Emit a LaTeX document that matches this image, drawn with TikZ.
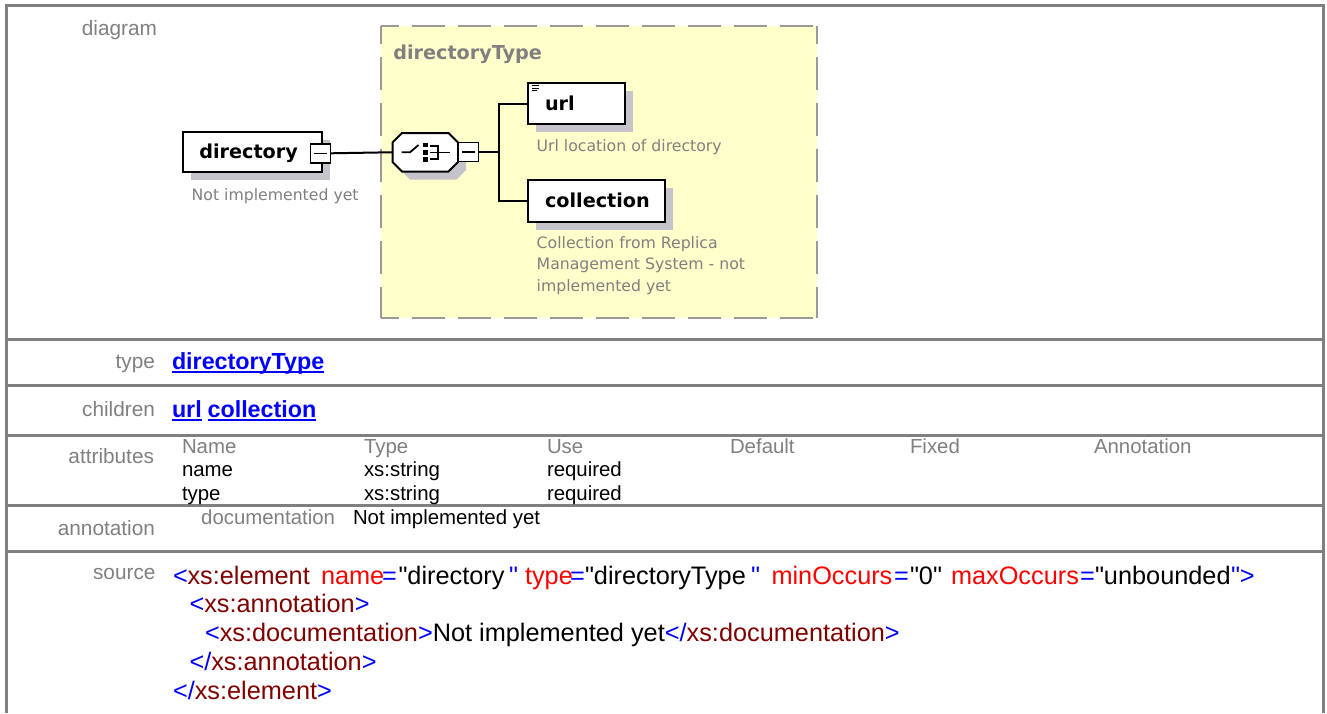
\documentclass[tikz,border=0pt]{standalone}
\usepackage{fontspec}
\setmainfont{Liberation Sans}[Ligatures=TeXOff]
\newfontfamily\dvfont{DejaVu Sans}
\usetikzlibrary{calc,shadows}
\definecolor{lblc}{HTML}{808080}
\definecolor{framec}{HTML}{808080}
\definecolor{ybg}{HTML}{FFFFCC}
\definecolor{dashc}{HTML}{9A9A9A}
\definecolor{shadc}{HTML}{C4C4CA}
\definecolor{linkc}{HTML}{0000FF}
\definecolor{tagc}{HTML}{800000}
\definecolor{attrc}{HTML}{FF0000}
\definecolor{mkc}{HTML}{0000FF}
\begin{document}
\begin{tikzpicture}[x=1pt,y=-1pt,
  every node/.style={inner sep=0pt,outer sep=0pt},
  lab/.style={anchor=base east,text=lblc,font=\fontsize{20.8}{24}\selectfont},
  cell/.style={anchor=base west,font=\fontsize{20.4}{24}\selectfont},
  hdr/.style={cell,text=lblc},
  lnk/.style={anchor=base west,text=linkc,font=\bfseries\fontsize{23.3}{26}\selectfont},
  uline/.style={draw=linkc,line width=2pt},
  src/.style={anchor=base west,font=\fontsize{25.3}{28}\selectfont},
  rowline/.style={draw=framec,line width=3pt},
  typebox/.style={fill=ybg,minimum width=436pt,minimum height=292pt},
  dashedge/.style={draw=dashc,line width=2pt,dash pattern=on 33pt off 13pt,dash phase=15pt},
  ebox/.style={draw=black,line width=2pt,fill=white,
    general shadow={fill=shadc,shadow xshift=8pt,shadow yshift=-8pt}},
  minbox/.style={draw=black,line width=1.5pt,fill=white,minimum width=20pt,minimum height=19pt},
  ename/.style={anchor=base west,font=\dvfont\bfseries\fontsize{19.2}{22}\selectfont},
  enote/.style={anchor=base west,text=lblc,font=\dvfont\fontsize{15.7}{18}\selectfont},
  conn/.style={draw=black,line width=2pt}
]
\useasboundingbox (0,0) rectangle (1327,713);
\fill[white] (0,0) rectangle (1327,713);

% ---------- table frame ----------
\draw[rowline] (6.5,713) -- (6.5,5) -- (1323.5,5) -- (1323.5,713);
\draw[rowline] (6.5,339.5) -- (1323.5,339.5);
\draw[rowline] (6.5,385) -- (1323.5,385);
\draw[rowline] (6.5,435) -- (1323.5,435);
\draw[rowline] (6.5,505) -- (1323.5,505);
\draw[rowline] (6.5,551.5) -- (1323.5,551.5);

% ---------- row labels ----------
\node[lab] (ldiagram) at (157,35) {diagram};
\node[lab] (ltype) at (155,368) {type};
\node[lab] (lchildren) at (155,416) {children};
\node[lab] (lattr) at (154,463) {attributes};
\node[lab] (lannot) at (155,535.5) {annotation};
\node[lab] (lsource) at (155.5,579) {source};

% ---------- diagram ----------
\node[typebox] (tbox) at (599,171.5) {};
\draw[dashedge] (tbox.north west) -- (tbox.north east);
\draw[dashedge] (tbox.north west) -- (tbox.south west);
\draw[dashedge] (tbox.north east) -- (tbox.south east);
\draw[dashedge] (tbox.south west) -- (tbox.south east);
\node[ename,text=lblc] (tlabel) at (393.3,59) {directoryType};

% directory element
\node[ebox,minimum width=139pt,minimum height=40pt] (dirbox) at (252.5,151.7) {};
\node[ename] (dirtxt) at (199.3,158.5) {directory};
\node[minbox] (dirmin) at (320.3,153.3) {};
\draw[line width=1.5pt] ($(dirmin.west)+(3.5,0)$) -- ($(dirmin.east)+(-3.5,0)$);
\node[enote] (dirnote) at (191.7,200.5) {Not implemented yet};

% sequence compositor
\fill[shadc] (410,141) -- (456.5,141) -- (466,150.5) -- (466,170) -- (456.5,179.5) -- (410,179.5) -- (400.5,170) -- (400.5,150.5) -- cycle;
\filldraw[fill=white,draw=black,line width=2pt] (402,133) -- (448.5,133) -- (458,142.5) -- (458,162) -- (448.5,171.5) -- (402,171.5) -- (392.5,162) -- (392.5,142.5) -- cycle;
\node[minimum width=65.5pt,minimum height=38.5pt] (seq) at (425.25,152.25) {};
\draw[line width=1.8pt] (401.7,152.3) -- (410,152.3) -- (418.5,145);
\fill (422.5,142.5) rectangle (427.5,147);
\fill (422.5,149.5) rectangle (427.5,154.5);
\fill (422.5,157) rectangle (427.5,161.5);
\draw[line width=1.8pt] (430,146) -- (438.3,146) -- (438.3,159.3) -- (430,159.3);
\draw[line width=1.8pt] (430,152.5) -- (450,152.5);
\node[minbox] (seqmin) at (468.3,152.2) {};
\draw[line width=1.5pt] ($(seqmin.west)+(3.5,0)$) -- ($(seqmin.east)+(-3.5,0)$);

% url element
\node[ebox,minimum width=96.5pt,minimum height=41pt] (urlbox) at (576.25,103.5) {};
\draw[line width=0.9pt] (531.5,85.8) -- (538.5,85.8);
\draw[line width=0.9pt] (531.5,88.3) -- (538.5,88.3);
\draw[line width=0.9pt] (531.5,90.8) -- (536.5,90.8);
\node[ename] (urltxt) at (545,110.5) {url};
\node[enote] (urlnote) at (536.7,151.5) {Url location of directory};

% collection element
\node[ebox,minimum width=136.7pt,minimum height=41.7pt] (colbox) at (596.7,200.9) {};
\node[ename] (coltxt) at (545,207) {collection};
\node[enote] (colnote1) at (536.7,248.2) {Collection from Replica};
\node[enote] (colnote2) at (536.7,269.8) {Management System - not};
\node[enote] (colnote3) at (536.7,291.5) {implemented yet};

% connectors
\coordinate (junc) at (498.5,152.2);
\draw[conn] (dirmin.east) -- (seq.west);
\draw[conn] (seqmin.east) -- (junc);
\draw[conn] (urlbox.west) -| (junc) |- (colbox.west);

% ---------- type / children ----------
\node[lnk] (typelink) at (172,369.5) {directoryType};
\draw[uline] ($(typelink.base west)+(0,2.6)$) -- ($(typelink.base east)+(0,2.6)$);
\node[lnk] (urllink) at (172,417.5) {url};
\draw[uline] ($(urllink.base west)+(0,2.6)$) -- ($(urllink.base east)+(0,2.6)$);
\node[lnk] (collink) at (207.6,417.5) {collection};
\draw[uline] ($(collink.base west)+(0,2.6)$) -- ($(collink.base east)+(0,2.6)$);

% ---------- attributes ----------
\node[hdr] (hname) at (182,453) {Name};
\node[hdr] (htype) at (364,453) {Type};
\node[hdr] (huse) at (547,453) {Use};
\node[hdr] (hdef) at (730,453) {Default};
\node[hdr] (hfix) at (910,453) {Fixed};
\node[hdr] (hann) at (1094,453) {Annotation};
\node[cell] (a1n) at (182,476.5) {name};
\node[cell] (a1t) at (364,476.5) {xs:string};
\node[cell] (a1u) at (547,476.5) {required};
\node[cell] (a2n) at (182,500) {type};
\node[cell] (a2t) at (364,500) {xs:string};
\node[cell] (a2u) at (547,500) {required};

% ---------- annotation ----------
\node[hdr,anchor=base east] (docl) at (335,524.5) {documentation};
\node[cell] (docv) at (353,524.5) {Not implemented yet};

% ---------- source ----------
\node[src,text=mkc] (s1a) at (173,584) {<};
\node[src,text=tagc] (s1b) at (187.5,584) {xs:element};
\node[src,text=attrc] (s1c) at (321,584) {name};
\node[src,text=mkc] (s1d) at (382,584) {=};
\node[src] (s1e) at (398.5,584) {"directory};
\node[src,text=mkc] (s1f) at (509,584) {"};
\node[src,text=attrc] (s1g) at (525,584) {type};
\node[src,text=mkc] (s1h) at (570,584) {=};
\node[src] (s1i) at (585,584) {"directoryType};
\node[src,text=mkc] (s1j) at (751,584) {"};
\node[src,text=attrc] (s1k) at (771.5,584) {minOccurs};
\node[src,text=mkc] (s1l) at (894,584) {=};
\node[src] (s1m) at (910,584) {"0"};
\node[src,text=attrc] (s1n) at (951,584) {maxOccurs};
\node[src,text=mkc] (s1o) at (1080,584) {=};
\node[src] (s1p) at (1095,584) {"unbounded};
\node[src,text=mkc] (s1q) at (1231,584) {">};
\node[src] (s2) at (189.5,612.5) {\textcolor{mkc}{<}\textcolor{tagc}{xs:annotation}\textcolor{mkc}{>}};
\node[src] (s3) at (205,641) {\textcolor{mkc}{<}\textcolor{tagc}{xs:documentation}\textcolor{mkc}{>}Not implemented yet\textcolor{mkc}{</}\textcolor{tagc}{xs:documentation}\textcolor{mkc}{>}};
\node[src] (s4) at (189.5,670) {\textcolor{mkc}{</}\textcolor{tagc}{xs:annotation}\textcolor{mkc}{>}};
\node[src] (s5) at (173,699) {\textcolor{mkc}{</}\textcolor{tagc}{xs:element}\textcolor{mkc}{>}};
\end{tikzpicture}
\end{document}
